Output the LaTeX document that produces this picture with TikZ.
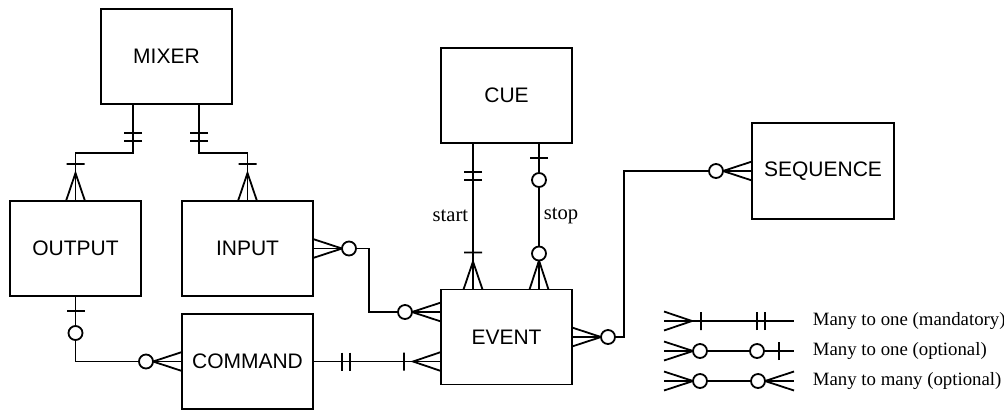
\documentclass[tikz,border=0pt]{standalone}
\usepackage{fontspec}
\setmainfont{Liberation Serif}
\newfontfamily\erfont{Liberation Sans}
\usetikzlibrary{positioning}

\begin{document}
\begin{tikzpicture}[
  x=0.5pt,y=-0.5pt,line width=0.9pt,
  entity/.style={draw,minimum width=65.5pt,minimum height=47.5pt,inner sep=0pt,outer sep=0pt,align=center,font=\erfont\fontsize{10.5}{12}\selectfont},
  link/.style={draw},
  lbl/.style={inner sep=2pt,font=\fontsize{10.3}{12}\selectfont},
  key/.style={anchor=west,inner sep=0pt,font=\fontsize{9.4}{11}\selectfont},
  mone/.pic={\draw (29,-9)--(29,9) (37,-9)--(37,9);},
  oone/.pic={\draw (15,-9)--(15,9); \draw[fill=white] (37,0) circle[radius=7];},
  mmany/.pic={\draw (0,-9.5)--(28,0)--(0,9.5) (37,-9)--(37,9);},
  omany/.pic={\draw (0,-9.5)--(29,0)--(0,9.5); \draw[fill=white] (36,0) circle[radius=7];}
]
\useasboundingbox (0,0) rectangle (1004,414);

\node[entity] (mixer) at (166.5,56.5) {MIXER};
\node[entity] (output) at (75.5,248.5) {OUTPUT};
\node[entity,right=20.5pt of output] (input) {INPUT};
\node[entity,below=9pt of input] (command) {COMMAND};
\node[entity] (cue) at (506.5,95.5) {CUE};
\node[entity] (event) at (506.5,337) {EVENT};
\node[entity,minimum width=71pt,minimum height=48pt] (sequence) at (823,171) {SEQUENCE};

% connector end points
\coordinate (mixl) at ([xshift=-16.75pt]mixer.south);
\coordinate (mixr) at ([xshift=16.25pt]mixer.south);
\coordinate (cuel) at ([xshift=-16.75pt]cue.south);
\coordinate (cuer) at ([xshift=16.25pt]cue.south);
\coordinate (evin) at ([yshift=12.5pt]event.west);
\coordinate (evcmd) at (command.east -| event.west);

\draw[link] (mixl) -- ++(0,49) -| (output.north);
\draw[link] (mixr) -- ++(0,49) -| (input.north);
\draw[link] (output.south) |- (command.west);
\draw[link] (input.east) -- ++(56,0) |- (evin);
\draw[link] (command.east) -- (evcmd);
\draw[link] (cuel) -- node[left,lbl] {start} (cuel |- event.north);
\draw[link] (cuer) -- node[right,lbl] {stop} (cuer |- event.north);
\draw[link] (event.east) -- ++(52,0) |- (sequence.west);

% ends
\pic[rotate=-90] at (mixl) {mone};
\pic[rotate=90] at (output.north) {mmany};
\pic[rotate=-90] at (mixr) {mone};
\pic[rotate=90] at (input.north) {mmany};
\pic[rotate=-90] at (output.south) {oone};
\pic[rotate=180] at (command.west) {omany};
\pic at (input.east) {omany};
\pic[rotate=180] at (evin) {omany};
\pic at (command.east) {mone};
\pic[rotate=180] at (evcmd) {mmany};
\pic[rotate=-90] at (cuel) {mone};
\pic[rotate=90] at (cuel |- event.north) {mmany};
\pic[rotate=-90] at (cuer) {oone};
\pic[rotate=90] at (cuer |- event.north) {omany};
\pic at (event.east) {omany};
\pic[rotate=180] at (sequence.west) {omany};

% legend
\coordinate (k1a) at (664,321);
\coordinate (k1b) at (794,321);
\coordinate (k2a) at (664,351);
\coordinate (k2b) at (794,351);
\coordinate (k3a) at (664,381);
\coordinate (k3b) at (794,381);
\draw[link] (k1a) -- (k1b);
\draw[link] (k2a) -- (k2b);
\draw[link] (k3a) -- (k3b);
\pic at (k1a) {mmany};
\pic[rotate=180] at (k1b) {mone};
\pic at (k2a) {omany};
\pic[rotate=180] at (k2b) {oone};
\pic at (k3a) {omany};
\pic[rotate=180] at (k3b) {omany};
\node[key] (key1) at (812,321) {Many to one (mandatory)};
\node[key] (key2) at (812,351) {Many to one (optional)};
\node[key] (key3) at (812,381) {Many to many (optional)};
\end{tikzpicture}
\end{document}
